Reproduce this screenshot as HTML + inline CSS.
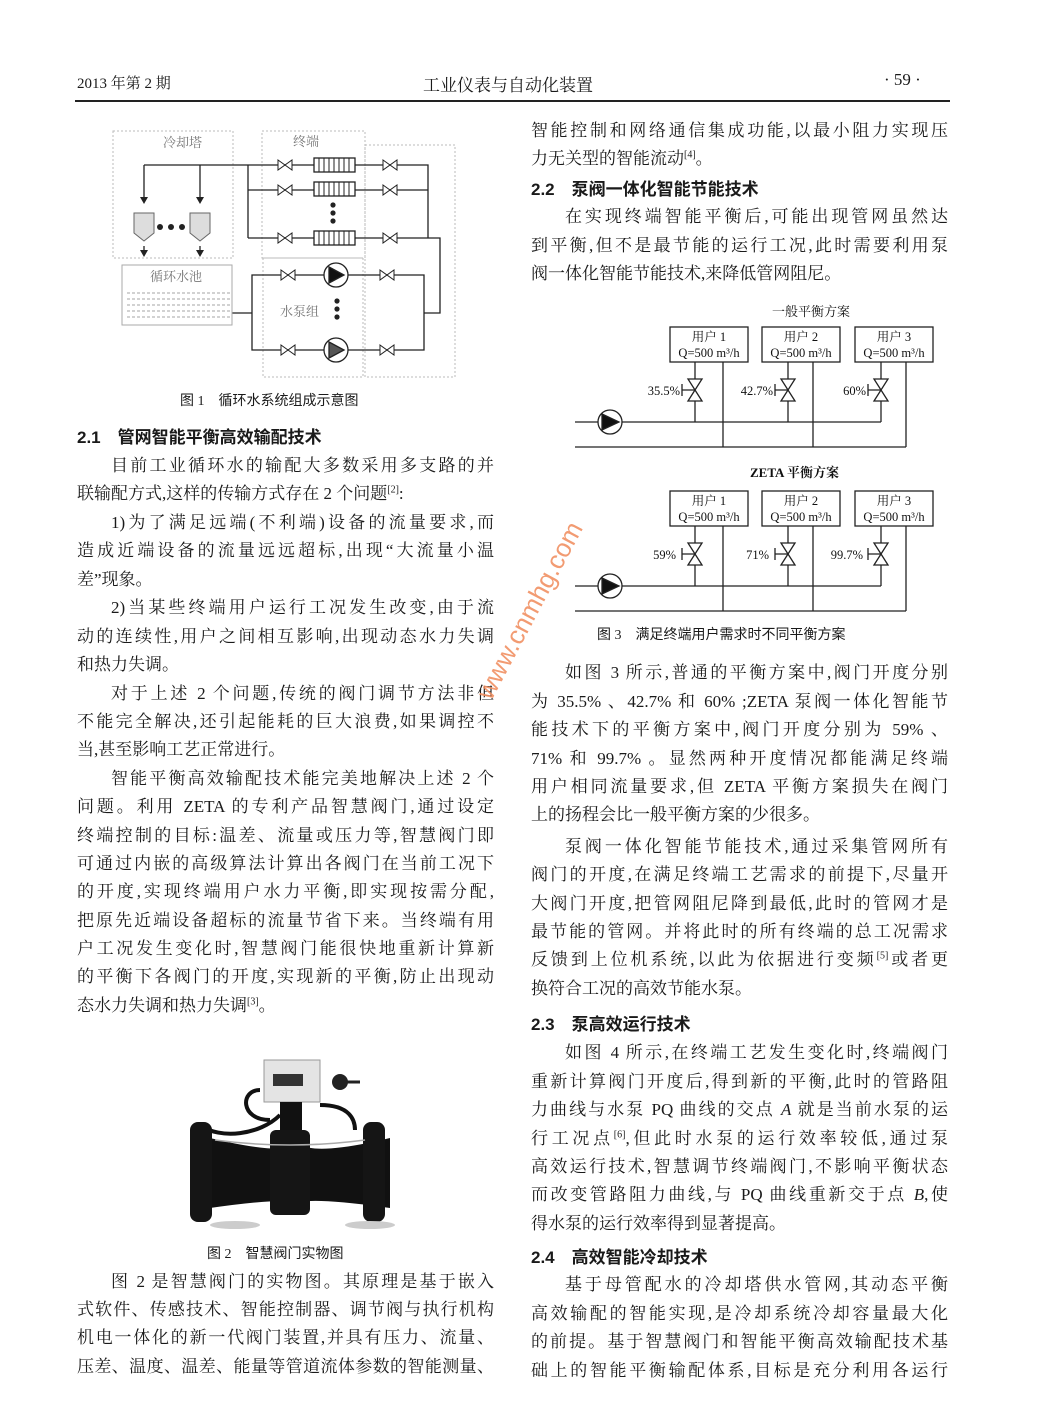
<!DOCTYPE html>
<html><head><meta charset="utf-8"><style>
body{margin:0;background:#fff;}
#p{position:relative;width:1041px;height:1422px;overflow:hidden;background:#fff;color:#1a1a1a;font-family:"Liberation Serif","Noto Serif CJK SC","Noto Sans CJK SC",serif;}
.l{position:absolute;width:417px;font-size:17px;line-height:22px;white-space:nowrap;text-align:justify;text-align-last:justify;}
.L{left:77px}.R{left:531px}
.e{text-align-last:left}
.i{text-indent:34px}
.h{font-family:"Liberation Sans","Noto Sans CJK SC",sans-serif;font-weight:bold;text-align-last:left}
sup{font-size:10px;line-height:0}
.cap{position:absolute;font-size:14px;font-family:"Liberation Serif","Noto Sans CJK SC",serif;white-space:nowrap}
svg text{font-family:"Liberation Serif","Noto Serif CJK SC",serif}
</style></head><body><div id="p">
<div style="position:absolute;left:77px;top:72px;font-size:15px">2013 年第 2 期</div>
<div style="position:absolute;left:423px;top:71px;font-size:17px">工业仪表与自动化装置</div>
<div style="position:absolute;left:884px;top:70px;font-size:17px">· 59 ·</div>
<div style="position:absolute;left:75px;top:100px;width:875px;height:2px;background:#222"></div>

<!-- Fig 1 -->
<svg style="position:absolute;left:0;top:0" width="480" height="420" fill="none" stroke="#222" stroke-width="1.3">
<g stroke="#bbb" stroke-dasharray="2 2" stroke-width="1"><rect x="113" y="131" width="120" height="127"/><rect x="262" y="131" width="103" height="127"/><rect x="263" y="258" width="100" height="119"/><rect x="365" y="145" width="90" height="232"/></g>
<path d="M144 165H428V238M248 165V238M248 190H428M248 238H440V313H424M144 165V198M200 165V198M144 246V252M200 246V252"/>
<path d="M232 313H252M252 275H424V350H252Z"/>
<g fill="#222" stroke="none"><path d="M140 197h8l-4 7z M196 197h8l-4 7z M140 250h8l-4 7z M196 250h8l-4 7z"/>
<circle cx="160" cy="227" r="3"/><circle cx="171" cy="227" r="3"/><circle cx="182" cy="227" r="3"/>
<circle cx="333" cy="205" r="2.6"/><circle cx="333" cy="213" r="2.6"/><circle cx="333" cy="221" r="2.6"/>
<circle cx="337" cy="301" r="2.6"/><circle cx="337" cy="309" r="2.6"/><circle cx="337" cy="317" r="2.6"/></g>
<g fill="#ddd" stroke="#666" stroke-width="1"><path d="M134 213h20v20l-10 8l-10 -8z"/><path d="M190 213h20v20l-10 8l-10 -8z"/></g>
<g fill="#fff"><rect x="122" y="265" width="110" height="60" stroke="#aaa" stroke-width="1"/></g>
<g stroke="#888" stroke-dasharray="3 2" stroke-width="0.8"><path d="M127 293H230M127 299H230M127 305H230M127 311H230M127 317H230"/></g>
<g fill="#fff">
<path d="M278 160l14 10v-10l-14 10z M383 160l14 10v-10l-14 10z M278 185l14 10v-10l-14 10z M383 185l14 10v-10l-14 10z M278 233l14 10v-10l-14 10z M383 233l14 10v-10l-14 10z M281 270l14 10v-10l-14 10z M380 270l14 10v-10l-14 10z M281 345l14 10v-10l-14 10z M380 345l14 10v-10l-14 10z" stroke-width="1"/>
<rect x="314" y="158" width="41" height="14"/><rect x="314" y="182" width="41" height="14"/><rect x="314" y="231" width="41" height="14"/>
<circle cx="336" cy="275" r="12"/><circle cx="336" cy="350" r="12"/></g>
<path d="M319 158v14M324 158v14M329 158v14M334 158v14M339 158v14M344 158v14M349 158v14M319 182v14M324 182v14M329 182v14M334 182v14M339 182v14M344 182v14M349 182v14M319 231v14M324 231v14M329 231v14M334 231v14M339 231v14M344 231v14M349 231v14" stroke-width="1"/>
<path d="M329 267l15 8l-15 8z" fill="#111"/><path d="M329 342l15 8l-15 8z" fill="#555"/>
<g fill="#777" stroke="none" font-size="13"><text x="163" y="147">冷却塔</text><text x="293" y="146">终端</text><text x="150" y="281">循环水池</text><text x="280" y="316">水泵组</text></g>
</svg>
<div class="cap" style="left:180px;top:390px">图 1　循环水系统组成示意图</div>

<!-- Left column -->
<div class="l L h" style="top:427px">2.1　管网智能平衡高效输配技术</div>
<div class="l L i" style="top:455px">目前工业循环水的输配大多数采用多支路的并</div>
<div class="l L e" style="top:483px">联输配方式,这样的传输方式存在 2 个问题<sup>[2]</sup>:</div>
<div class="l L i" style="top:512px">1)为了满足远端(不利端)设备的流量要求,而</div>
<div class="l L" style="top:540px">造成近端设备的流量远远超标,出现“大流量小温</div>
<div class="l L e" style="top:569px">差”现象。</div>
<div class="l L i" style="top:597px">2)当某些终端用户运行工况发生改变,由于流</div>
<div class="l L" style="top:626px">动的连续性,用户之间相互影响,出现动态水力失调</div>
<div class="l L e" style="top:654px">和热力失调。</div>
<div class="l L i" style="top:683px">对于上述 2 个问题,传统的阀门调节方法非但</div>
<div class="l L" style="top:711px">不能完全解决,还引起能耗的巨大浪费,如果调控不</div>
<div class="l L e" style="top:739px">当,甚至影响工艺正常进行。</div>
<div class="l L i" style="top:768px">智能平衡高效输配技术能完美地解决上述 2 个</div>
<div class="l L" style="top:796px">问题。利用 ZETA 的专利产品智慧阀门,通过设定</div>
<div class="l L" style="top:825px">终端控制的目标:温差、流量或压力等,智慧阀门即</div>
<div class="l L" style="top:853px">可通过内嵌的高级算法计算出各阀门在当前工况下</div>
<div class="l L" style="top:881px">的开度,实现终端用户水力平衡,即实现按需分配,</div>
<div class="l L" style="top:910px">把原先近端设备超标的流量节省下来。当终端有用</div>
<div class="l L" style="top:938px">户工况发生变化时,智慧阀门能很快地重新计算新</div>
<div class="l L" style="top:966px">的平衡下各阀门的开度,实现新的平衡,防止出现动</div>
<div class="l L e" style="top:995px">态水力失调和热力失调<sup>[3]</sup>。</div>

<!-- Fig 2 photo -->
<svg style="position:absolute;left:180px;top:1030px" width="290" height="200">
<rect x="84" y="30" width="56" height="42" fill="#e4e4e4" stroke="#999"/>
<rect x="93" y="44" width="30" height="12" fill="#333"/>
<circle cx="160" cy="52" r="8" fill="#222"/><path d="M160 52h20" stroke="#222" stroke-width="3"/>
<path d="M80 60C60 60 60 90 90 90M140 75C170 75 175 90 175 100M20 95C40 110 80 105 100 85" stroke="#111" stroke-width="4" fill="none"/>
<rect x="100" y="72" width="22" height="40" fill="#111"/>
<path d="M30 108Q100 125 120 115Q140 125 210 108V178Q140 168 120 172Q100 168 30 178Z" fill="#111"/>
<rect x="90" y="100" width="40" height="85" rx="6" fill="#151515"/>
<rect x="10" y="92" width="22" height="100" rx="8" fill="#151515"/>
<rect x="183" y="92" width="22" height="100" rx="8" fill="#151515"/>
<path d="M35 110Q110 120 185 110" stroke="#aaa" stroke-width="1.5" fill="none"/>
<ellipse cx="55" cy="195" rx="25" ry="4" fill="#ccc"/><ellipse cx="190" cy="195" rx="25" ry="4" fill="#ccc"/>
</svg>
<div class="cap" style="left:207px;top:1243px">图 2　智慧阀门实物图</div>

<div class="l L i" style="top:1271px">图 2 是智慧阀门的实物图。其原理是基于嵌入</div>
<div class="l L" style="top:1299px">式软件、传感技术、智能控制器、调节阀与执行机构</div>
<div class="l L" style="top:1327px">机电一体化的新一代阀门装置,并具有压力、流量、</div>
<div class="l L" style="top:1356px">压差、温度、温差、能量等管道流体参数的智能测量、</div>

<!-- Right column -->
<div class="l R" style="top:120px">智能控制和网络通信集成功能,以最小阻力实现压</div>
<div class="l R e" style="top:148px">力无关型的智能流动<sup>[4]</sup>。</div>
<div class="l R h" style="top:179px">2.2　泵阀一体化智能节能技术</div>
<div class="l R i" style="top:206px">在实现终端智能平衡后,可能出现管网虽然达</div>
<div class="l R" style="top:235px">到平衡,但不是最节能的运行工况,此时需要利用泵</div>
<div class="l R e" style="top:263px">阀一体化智能节能技术,来降低管网阻尼。</div>

<!-- Fig 3 -->
<svg style="position:absolute;left:0;top:0" width="1041" height="650" fill="none" stroke="#222" stroke-width="1.3">
<g font-size="13" fill="#111" stroke="none"><text x="772" y="316">一般平衡方案</text><text x="750" y="477" font-weight="bold">ZETA 平衡方案</text></g>
<g id="s1">
<path d="M575 422H881M575 447H906M695 362V422M788 362V422M881 362V422M723 362V447M813 362V447M906 362V447"/>
<rect x="670" y="327" width="78" height="35" fill="#fff"/><rect x="762" y="327" width="78" height="35" fill="#fff"/><rect x="855" y="327" width="78" height="35" fill="#fff"/>
<path d="M688 379h14l-14 22h14z M781 379h14l-14 22h14z M874 379h14l-14 22h14z" fill="#fff"/>
<path d="M682 384v12M682 390h13M775 384v12M775 390h13M868 384v12M868 390h13"/>
<circle cx="610" cy="422" r="12" fill="#fff"/><path d="M602 414l17 8l-17 8z" fill="#111"/>
</g>
<use href="#s1" y="164"/>
<g font-size="12.5" fill="#111" stroke="none" text-anchor="middle">
<text x="709" y="341">用户 1</text><text x="709" y="357">Q=500 m³/h</text>
<text x="801" y="341">用户 2</text><text x="801" y="357">Q=500 m³/h</text>
<text x="894" y="341">用户 3</text><text x="894" y="357">Q=500 m³/h</text>
<text x="709" y="505">用户 1</text><text x="709" y="521">Q=500 m³/h</text>
<text x="801" y="505">用户 2</text><text x="801" y="521">Q=500 m³/h</text>
<text x="894" y="505">用户 3</text><text x="894" y="521">Q=500 m³/h</text>
</g>
<g font-size="12.5" fill="#111" stroke="none" text-anchor="end">
<text x="680" y="395">35.5%</text><text x="773" y="395">42.7%</text><text x="866" y="395">60%</text>
<text x="676" y="559">59%</text><text x="769" y="559">71%</text><text x="863" y="559">99.7%</text>
</g>
</svg>
<div class="cap" style="left:597px;top:624px">图 3　满足终端用户需求时不同平衡方案</div>
<div style="position:absolute;left:470px;top:690px;transform:rotate(-62deg);transform-origin:left top;color:#f08a5a;font-size:26px;font-family:'Liberation Sans',sans-serif;opacity:0.85;white-space:nowrap">www.cnmhg.com</div>

<div class="l R i" style="top:662px">如图 3 所示,普通的平衡方案中,阀门开度分别</div>
<div class="l R" style="top:691px">为 35.5% 、42.7% 和 60% ;ZETA 泵阀一体化智能节</div>
<div class="l R" style="top:719px">能技术下的平衡方案中,阀门开度分别为 59% 、</div>
<div class="l R" style="top:748px">71% 和 99.7% 。显然两种开度情况都能满足终端</div>
<div class="l R" style="top:776px">用户相同流量要求,但 ZETA 平衡方案损失在阀门</div>
<div class="l R e" style="top:804px">上的扬程会比一般平衡方案的少很多。</div>
<div class="l R i" style="top:836px">泵阀一体化智能节能技术,通过采集管网所有</div>
<div class="l R" style="top:864px">阀门的开度,在满足终端工艺需求的前提下,尽量开</div>
<div class="l R" style="top:893px">大阀门开度,把管网阻尼降到最低,此时的管网才是</div>
<div class="l R" style="top:921px">最节能的管网。并将此时的所有终端的总工况需求</div>
<div class="l R" style="top:949px">反馈到上位机系统,以此为依据进行变频<sup>[5]</sup>或者更</div>
<div class="l R e" style="top:978px">换符合工况的高效节能水泵。</div>
<div class="l R h" style="top:1014px">2.3　泵高效运行技术</div>
<div class="l R i" style="top:1042px">如图 4 所示,在终端工艺发生变化时,终端阀门</div>
<div class="l R" style="top:1071px">重新计算阀门开度后,得到新的平衡,此时的管路阻</div>
<div class="l R" style="top:1099px">力曲线与水泵 PQ 曲线的交点 <i>A</i> 就是当前水泵的运</div>
<div class="l R" style="top:1128px">行工况点<sup>[6]</sup>,但此时水泵的运行效率较低,通过泵</div>
<div class="l R" style="top:1156px">高效运行技术,智慧调节终端阀门,不影响平衡状态</div>
<div class="l R" style="top:1184px">而改变管路阻力曲线,与 PQ 曲线重新交于点 <i>B</i>,使</div>
<div class="l R e" style="top:1213px">得水泵的运行效率得到显著提高。</div>
<div class="l R h" style="top:1247px">2.4　高效智能冷却技术</div>
<div class="l R i" style="top:1274px">基于母管配水的冷却塔供水管网,其动态平衡</div>
<div class="l R" style="top:1303px">高效输配的智能实现,是冷却系统冷却容量最大化</div>
<div class="l R" style="top:1331px">的前提。基于智慧阀门和智能平衡高效输配技术基</div>
<div class="l R" style="top:1360px">础上的智能平衡输配体系,目标是充分利用各运行</div>
</div></body></html>
